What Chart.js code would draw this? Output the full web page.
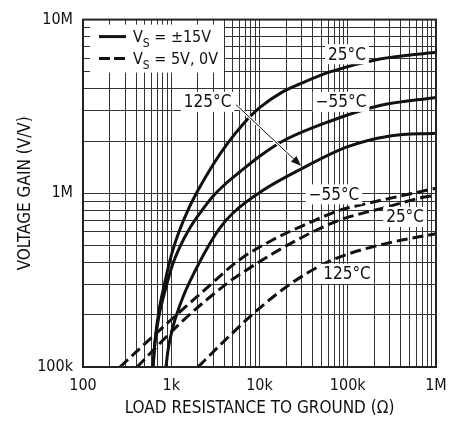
<!DOCTYPE html>
<html>
<head>
<meta charset="utf-8">
<script src="https://cdn.jsdelivr.net/npm/chart.js@4"></script>
<style>
html, body { margin: 0; padding: 0; background: #fff; }
</style>
</head>
<body>
<canvas id="myChart" width="463" height="421"></canvas>
<script>
// axis decades and their labels
const xDecades = [100, 1e3, 1e4, 1e5, 1e6];
const xTickLabels = ['100', '1k', '10k', '100k', '1M'];
const yDecades = [1e5, 1e6, 1e7];
const yTickLabels = ['100k', '1M', '10M'];

// VS = ±15V (solid) : load resistance (ohm) / gain (V/V)
const r25 = [621, 655, 726, 828, 994, 1224, 1548, 2010, 2972, 4282, 6502, 10130, 18460, 28770, 62950, 231600, 1000000];
const g25 = [1e5, 1.42e5, 2.11e5, 2.92e5, 4.33e5, 6.0e5, 8.01e5, 1.04e6, 1.46e6, 1.92e6, 2.5e6, 3.12e6, 3.85e6, 4.27e6, 5.0e6, 5.93e6, 6.49e6];
const rM55 = [621, 655, 726, 850, 1020, 1257, 1632, 2118, 2972, 4173, 6010, 10130, 18460, 62950, 231600, 1000000];
const gM55 = [1e5, 1.39e5, 1.975e5, 2.74e5, 3.8e5, 4.93e5, 6.33e5, 7.7e5, 9.62e5, 1.14e6, 1.33e6, 1.64e6, 2.0e6, 2.6e6, 3.2e6, 3.56e6];
const r125 = [872, 919, 1020, 1161, 1359, 1632, 2608, 3568, 5009, 10960, 28770, 98200, 301000, 1000000];
const g125 = [1e5, 1.25e5, 1.62e5, 2.03e5, 2.53e5, 3.12e5, 4.93e5, 6.33e5, 7.7e5, 1.04e6, 1.37e6, 1.85e6, 2.14e6, 2.22e6];

// VS = 5V, 0V (dashed)
const dr55 = [262, 895, 2118, 6010, 14200, 34500, 81700, 137700, 1000000];
const dg55 = [1e5, 1.78e5, 2.63e5, 4.16e5, 5.4e5, 6.67e5, 8.0e5, 8.55e5, 1.07e6];
const dr25 = [409, 1358, 4630, 6010, 14200, 34500, 81700, 250500, 713000, 1000000];
const dg25 = [1e5, 1.85e5, 3.12e5, 3.42e5, 4.5e5, 5.77e5, 7.03e5, 8.22e5, 9.48e5, 9.75e5];
const dr125 = [2010, 4634, 7797, 12160, 22200, 52500, 98000, 301000, 1000000];
const dg125 = [1e5, 1.52e5, 1.95e5, 2.37e5, 3.0e5, 3.9e5, 4.45e5, 5.2e5, 5.85e5];

// curve labels, placed in data units
const curveLabels = ['25°C', '\u221255°C', '125°C', '\u221255°C', '25°C', '125°C'];
const labelR = [98000, 84000, 2580, 69800, 446000, 98000];
const labelG = [6.32e6, 3.36e6, 3.36e6, 9.86e5, 7.31e5, 3.44e5];
// arrow from the 125°C label to its curve
const arrowR = [5420, 29500];
const arrowG = [3.24e6, 1.44e6];

const tickFont = '"DejaVu Sans Condensed", "DejaVu Sans", sans-serif';

function pts(rs, gs) {
    return rs.map((r, i) => ({x: r, y: gs[i]}));
}

function allTicks(decades) {
    const t = [];
    for (let i = 0; i < decades.length - 1; i++) {
        for (let m = 1; m <= 9; m++) t.push({value: decades[i] * m});
    }
    t.push({value: decades[decades.length - 1]});
    return t;
}

function curve(rs, gs, dashed) {
    return {
        data: pts(rs, gs),
        showLine: true,
        borderColor: '#111',
        borderWidth: 3,
        borderDash: dashed ? [11, 5] : [],
        pointRadius: 0,
        cubicInterpolationMode: 'monotone',
        clip: 0
    };
}

const notes = {
    id: 'notes',
    afterDatasetsDraw(chart) {
        const {ctx, chartArea: a, scales: {x, y}} = chart;
        ctx.save();

        // legend box
        const lx = a.left + 7, ly = a.top + 5;
        ctx.fillStyle = '#fff';
        ctx.fillRect(lx, ly, 134, 48);
        ctx.strokeStyle = '#111';
        ctx.lineWidth = 3;
        ctx.beginPath(); ctx.moveTo(lx + 9, ly + 12); ctx.lineTo(lx + 36, ly + 12); ctx.stroke();
        ctx.setLineDash([11, 4]);
        ctx.beginPath(); ctx.moveTo(lx + 9, ly + 34); ctx.lineTo(lx + 36, ly + 34); ctx.stroke();
        ctx.setLineDash([]);
        ctx.fillStyle = '#111';
        ctx.textAlign = 'left';
        ctx.textBaseline = 'alphabetic';
        [[' = \u00b115V', ly + 17], [' = 5V, 0V', ly + 39]].forEach(([rest, base]) => {
            let tx = lx + 43;
            ctx.font = '16px ' + tickFont;
            ctx.fillText('V', tx, base);
            tx += ctx.measureText('V').width;
            ctx.font = '12px ' + tickFont;
            ctx.fillText('S', tx, base + 5);
            tx += ctx.measureText('S').width;
            ctx.font = '16px ' + tickFont;
            ctx.fillText(rest, tx, base);
        });

        // arrow
        const x0 = x.getPixelForValue(arrowR[0]), y0 = y.getPixelForValue(arrowG[0]);
        const x1 = x.getPixelForValue(arrowR[1]), y1 = y.getPixelForValue(arrowG[1]);
        const ang = Math.atan2(y1 - y0, x1 - x0);
        const bx = x1 - 10 * Math.cos(ang), by = y1 - 10 * Math.sin(ang);
        ctx.strokeStyle = '#fff'; ctx.lineWidth = 3;
        ctx.beginPath(); ctx.moveTo(x0, y0); ctx.lineTo(bx, by); ctx.stroke();
        ctx.strokeStyle = '#111'; ctx.lineWidth = 1;
        ctx.beginPath(); ctx.moveTo(x0, y0); ctx.lineTo(bx, by); ctx.stroke();
        ctx.fillStyle = '#111';
        ctx.beginPath();
        ctx.moveTo(x1, y1);
        ctx.lineTo(bx + 4 * Math.sin(ang), by - 4 * Math.cos(ang));
        ctx.lineTo(bx - 4 * Math.sin(ang), by + 4 * Math.cos(ang));
        ctx.closePath(); ctx.fill();

        // curve labels
        ctx.font = '17px ' + tickFont;
        ctx.textAlign = 'center';
        ctx.textBaseline = 'middle';
        curveLabels.forEach((t, i) => {
            const px = x.getPixelForValue(labelR[i]), py = y.getPixelForValue(labelG[i]);
            const w = ctx.measureText(t).width + 6;
            ctx.fillStyle = '#fff';
            ctx.fillRect(px - w / 2, py - 10, w, 20);
            ctx.fillStyle = '#111';
            ctx.fillText(t, px, py + 1);
        });

        // frame
        ctx.strokeStyle = '#222';
        ctx.lineWidth = 2;
        ctx.strokeRect(a.left, a.top, a.right - a.left, a.bottom - a.top);
        ctx.restore();
    }
};

const ctx = document.getElementById('myChart').getContext('2d');
const myChart = new Chart(ctx, {
    type: 'scatter',
    data: {
        datasets: [
            curve(r25, g25, false),
            curve(rM55, gM55, false),
            curve(r125, g125, false),
            curve(dr55, dg55, true),
            curve(dr25, dg25, true),
            curve(dr125, dg125, true)
        ]
    },
    options: {
        responsive: false,
        animation: false,
        layout: {padding: {top: 15, right: 27, left: 0, bottom: 0}},
        plugins: {legend: {display: false}, tooltip: {enabled: false}},
        scales: {
            x: {
                type: 'logarithmic',
                min: 100,
                max: 1e6,
                afterBuildTicks: (s) => { s.ticks = allTicks(xDecades); },
                afterFit: (s) => { s.height = 54; },
                grid: {color: '#333', lineWidth: 1, drawTicks: false},
                border: {display: false},
                ticks: {
                    autoSkip: false,
                    maxRotation: 0,
                    padding: 9,
                    color: '#111',
                    font: {family: tickFont, size: 16},
                    callback: (v) => { const i = xDecades.indexOf(v); return i >= 0 ? xTickLabels[i] : ''; }
                },
                title: {
                    display: true,
                    text: 'LOAD RESISTANCE TO GROUND (\u03a9)',
                    color: '#111',
                    font: {family: tickFont, size: 17},
                    padding: {top: 0, bottom: 2}
                }
            },
            y: {
                type: 'logarithmic',
                min: 1e5,
                max: 1e7,
                afterBuildTicks: (s) => { s.ticks = allTicks(yDecades); },
                afterFit: (s) => { s.width = 83; },
                grid: {color: '#333', lineWidth: 1, drawTicks: false},
                border: {display: false},
                ticks: {
                    autoSkip: false,
                    padding: 10,
                    color: '#111',
                    font: {family: tickFont, size: 16},
                    callback: (v) => { const i = yDecades.indexOf(v); return i >= 0 ? yTickLabels[i] : ''; }
                },
                title: {
                    display: true,
                    text: 'VOLTAGE GAIN (V/V)',
                    color: '#111',
                    font: {family: tickFont, size: 17},
                    padding: {top: 15, bottom: 0}
                }
            }
        }
    },
    plugins: [notes]
});
</script>
</body>
</html>
